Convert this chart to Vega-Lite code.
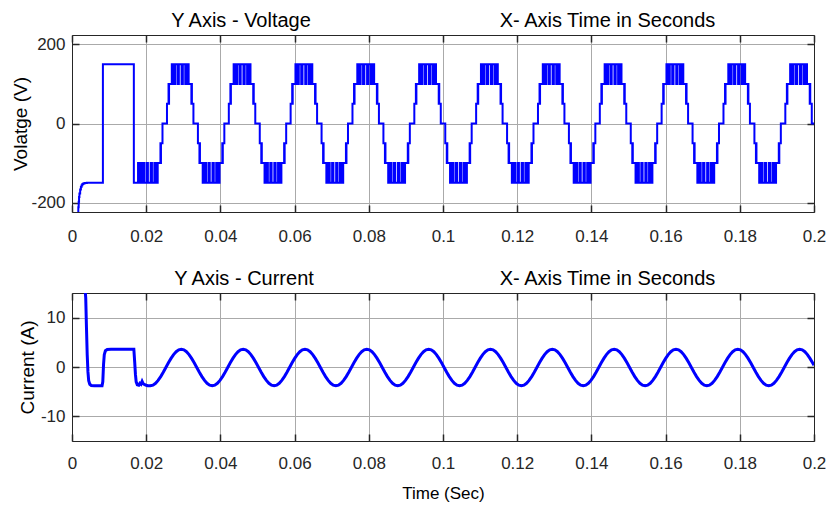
{
  "$schema": "https://vega.github.io/schema/vega-lite/v6.json",
  "background": "white",
  "padding": {"left": 11, "top": 10, "right": 0, "bottom": 5},
  "spacing": 24,
  "config": {
    "view": {"stroke": null},
    "axis": {
      "domainColor": "#262626",
      "domainWidth": 1,
      "tickColor": "#262626",
      "tickWidth": 1.5,
      "tickSize": -7,
      "labelFont": "Liberation Sans",
      "labelFontSize": 17,
      "labelColor": "#262626",
      "labelFlush": false,
      "labelOverlap": false,
      "labelExpr": "replace(datum.label, '−', '-')",
      "titleFont": "Liberation Sans",
      "titleFontWeight": "normal",
      "titleColor": "#000000",
      "gridColor": "#aaaaaa",
      "gridWidth": 1,
      "gridOpacity": 1
    },
    "title": {"font": "Liberation Sans", "fontSize": 20, "fontWeight": "normal", "color": "#000000"}
  },
  "datasets": {
    "voltage": [
      {"t":0.0016,"v":-235},{"t":0.0017,"v":-212},{"t":0.0018,"v":-198},{"t":0.0019,"v":-186},{"t":0.0020,"v":-177},{"t":0.0022,"v":-167},{"t":0.0024,"v":-160},{"t":0.0026,"v":-156},{"t":0.0028,"v":-153},{"t":0.0031,"v":-151.5},{"t":0.0035,"v":-150.5},{"t":0.0040,"v":-150},
      {"t":0.00833,"v":150},{"t":0.01667,"v":-150},{"t":0.0178,"v":-100},{"t":0.01815,"v":-150},{"t":0.01835,"v":-100},
      {"t":0.01856,"v":-150},{"t":0.01893,"v":-100},{"t":0.01946,"v":-150},{"t":0.02011,"v":-100},{"t":0.02046,"v":-150},{"t":0.02120,"v":-100},{"t":0.02155,"v":-150},{"t":0.02220,"v":-100},{"t":0.02273,"v":-150},{"t":0.02310,"v":-100},{"t":0.02384,"v":-50},{"t":0.02391,"v":-100},{"t":0.02398,"v":-50},{"t":0.02439,"v":0},

      {"t":0.02560,"v":50},{"t":0.02602,"v":100},{"t":0.02609,"v":50},{"t":0.02616,"v":100},{"t":0.02690,"v":150},{"t":0.02727,"v":100},{"t":0.02780,"v":150},{"t":0.02845,"v":100},{"t":0.02880,"v":150},{"t":0.02954,"v":100},{"t":0.02988,"v":150},{"t":0.03053,"v":100},{"t":0.03106,"v":150},{"t":0.03144,"v":100},{"t":0.03218,"v":50},{"t":0.03225,"v":100},{"t":0.03232,"v":50},{"t":0.03273,"v":0},
      {"t":0.03394,"v":-50},{"t":0.03435,"v":-100},{"t":0.03442,"v":-50},{"t":0.03449,"v":-100},{"t":0.03523,"v":-150},{"t":0.03560,"v":-100},{"t":0.03613,"v":-150},{"t":0.03678,"v":-100},{"t":0.03713,"v":-150},{"t":0.03787,"v":-100},{"t":0.03822,"v":-150},{"t":0.03887,"v":-100},{"t":0.03940,"v":-150},{"t":0.03977,"v":-100},{"t":0.04051,"v":-50},{"t":0.04058,"v":-100},{"t":0.04065,"v":-50},{"t":0.04106,"v":0},

      {"t":0.04227,"v":50},{"t":0.04269,"v":100},{"t":0.04276,"v":50},{"t":0.04283,"v":100},{"t":0.04357,"v":150},{"t":0.04394,"v":100},{"t":0.04447,"v":150},{"t":0.04512,"v":100},{"t":0.04547,"v":150},{"t":0.04621,"v":100},{"t":0.04655,"v":150},{"t":0.04720,"v":100},{"t":0.04773,"v":150},{"t":0.04811,"v":100},{"t":0.04885,"v":50},{"t":0.04892,"v":100},{"t":0.04899,"v":50},{"t":0.04940,"v":0},
      {"t":0.05061,"v":-50},{"t":0.05102,"v":-100},{"t":0.05109,"v":-50},{"t":0.05116,"v":-100},{"t":0.05190,"v":-150},{"t":0.05227,"v":-100},{"t":0.05280,"v":-150},{"t":0.05345,"v":-100},{"t":0.05380,"v":-150},{"t":0.05454,"v":-100},{"t":0.05489,"v":-150},{"t":0.05554,"v":-100},{"t":0.05607,"v":-150},{"t":0.05644,"v":-100},{"t":0.05718,"v":-50},{"t":0.05725,"v":-100},{"t":0.05732,"v":-50},{"t":0.05773,"v":0},

      {"t":0.05893,"v":50},{"t":0.05935,"v":100},{"t":0.05942,"v":50},{"t":0.05949,"v":100},{"t":0.06023,"v":150},{"t":0.06060,"v":100},{"t":0.06113,"v":150},{"t":0.06178,"v":100},{"t":0.06213,"v":150},{"t":0.06287,"v":100},{"t":0.06321,"v":150},{"t":0.06386,"v":100},{"t":0.06439,"v":150},{"t":0.06477,"v":100},{"t":0.06551,"v":50},{"t":0.06558,"v":100},{"t":0.06565,"v":50},{"t":0.06606,"v":0},
      {"t":0.06727,"v":-50},{"t":0.06768,"v":-100},{"t":0.06775,"v":-50},{"t":0.06782,"v":-100},{"t":0.06856,"v":-150},{"t":0.06893,"v":-100},{"t":0.06946,"v":-150},{"t":0.07011,"v":-100},{"t":0.07046,"v":-150},{"t":0.07120,"v":-100},{"t":0.07155,"v":-150},{"t":0.07220,"v":-100},{"t":0.07273,"v":-150},{"t":0.07310,"v":-100},{"t":0.07384,"v":-50},{"t":0.07391,"v":-100},{"t":0.07398,"v":-50},{"t":0.07439,"v":0},

      {"t":0.07560,"v":50},{"t":0.07602,"v":100},{"t":0.07609,"v":50},{"t":0.07616,"v":100},{"t":0.07690,"v":150},{"t":0.07727,"v":100},{"t":0.07780,"v":150},{"t":0.07845,"v":100},{"t":0.07880,"v":150},{"t":0.07954,"v":100},{"t":0.07988,"v":150},{"t":0.08053,"v":100},{"t":0.08106,"v":150},{"t":0.08144,"v":100},{"t":0.08218,"v":50},{"t":0.08225,"v":100},{"t":0.08232,"v":50},{"t":0.08273,"v":0},
      {"t":0.08394,"v":-50},{"t":0.08435,"v":-100},{"t":0.08442,"v":-50},{"t":0.08449,"v":-100},{"t":0.08523,"v":-150},{"t":0.08560,"v":-100},{"t":0.08613,"v":-150},{"t":0.08678,"v":-100},{"t":0.08713,"v":-150},{"t":0.08787,"v":-100},{"t":0.08822,"v":-150},{"t":0.08887,"v":-100},{"t":0.08940,"v":-150},{"t":0.08977,"v":-100},{"t":0.09051,"v":-50},{"t":0.09058,"v":-100},{"t":0.09065,"v":-50},{"t":0.09106,"v":0},

      {"t":0.09227,"v":50},{"t":0.09269,"v":100},{"t":0.09276,"v":50},{"t":0.09283,"v":100},{"t":0.09357,"v":150},{"t":0.09394,"v":100},{"t":0.09447,"v":150},{"t":0.09512,"v":100},{"t":0.09547,"v":150},{"t":0.09621,"v":100},{"t":0.09655,"v":150},{"t":0.09720,"v":100},{"t":0.09773,"v":150},{"t":0.09811,"v":100},{"t":0.09885,"v":50},{"t":0.09892,"v":100},{"t":0.09899,"v":50},{"t":0.09940,"v":0},
      {"t":0.10061,"v":-50},{"t":0.10102,"v":-100},{"t":0.10109,"v":-50},{"t":0.10116,"v":-100},{"t":0.10190,"v":-150},{"t":0.10227,"v":-100},{"t":0.10280,"v":-150},{"t":0.10345,"v":-100},{"t":0.10380,"v":-150},{"t":0.10454,"v":-100},{"t":0.10489,"v":-150},{"t":0.10554,"v":-100},{"t":0.10607,"v":-150},{"t":0.10644,"v":-100},{"t":0.10718,"v":-50},{"t":0.10725,"v":-100},{"t":0.10732,"v":-50},{"t":0.10773,"v":0},

      {"t":0.10893,"v":50},{"t":0.10935,"v":100},{"t":0.10942,"v":50},{"t":0.10949,"v":100},{"t":0.11023,"v":150},{"t":0.11060,"v":100},{"t":0.11113,"v":150},{"t":0.11178,"v":100},{"t":0.11213,"v":150},{"t":0.11287,"v":100},{"t":0.11321,"v":150},{"t":0.11386,"v":100},{"t":0.11439,"v":150},{"t":0.11477,"v":100},{"t":0.11551,"v":50},{"t":0.11558,"v":100},{"t":0.11565,"v":50},{"t":0.11606,"v":0},
      {"t":0.11727,"v":-50},{"t":0.11768,"v":-100},{"t":0.11775,"v":-50},{"t":0.11782,"v":-100},{"t":0.11856,"v":-150},{"t":0.11893,"v":-100},{"t":0.11946,"v":-150},{"t":0.12011,"v":-100},{"t":0.12046,"v":-150},{"t":0.12120,"v":-100},{"t":0.12155,"v":-150},{"t":0.12220,"v":-100},{"t":0.12273,"v":-150},{"t":0.12310,"v":-100},{"t":0.12384,"v":-50},{"t":0.12391,"v":-100},{"t":0.12398,"v":-50},{"t":0.12439,"v":0},

      {"t":0.12560,"v":50},{"t":0.12602,"v":100},{"t":0.12609,"v":50},{"t":0.12616,"v":100},{"t":0.12690,"v":150},{"t":0.12727,"v":100},{"t":0.12780,"v":150},{"t":0.12845,"v":100},{"t":0.12880,"v":150},{"t":0.12954,"v":100},{"t":0.12988,"v":150},{"t":0.13053,"v":100},{"t":0.13106,"v":150},{"t":0.13144,"v":100},{"t":0.13218,"v":50},{"t":0.13225,"v":100},{"t":0.13232,"v":50},{"t":0.13273,"v":0},
      {"t":0.13394,"v":-50},{"t":0.13435,"v":-100},{"t":0.13442,"v":-50},{"t":0.13449,"v":-100},{"t":0.13523,"v":-150},{"t":0.13560,"v":-100},{"t":0.13613,"v":-150},{"t":0.13678,"v":-100},{"t":0.13713,"v":-150},{"t":0.13787,"v":-100},{"t":0.13822,"v":-150},{"t":0.13887,"v":-100},{"t":0.13940,"v":-150},{"t":0.13977,"v":-100},{"t":0.14051,"v":-50},{"t":0.14058,"v":-100},{"t":0.14065,"v":-50},{"t":0.14106,"v":0},

      {"t":0.14227,"v":50},{"t":0.14269,"v":100},{"t":0.14276,"v":50},{"t":0.14283,"v":100},{"t":0.14357,"v":150},{"t":0.14394,"v":100},{"t":0.14447,"v":150},{"t":0.14512,"v":100},{"t":0.14547,"v":150},{"t":0.14621,"v":100},{"t":0.14655,"v":150},{"t":0.14720,"v":100},{"t":0.14773,"v":150},{"t":0.14811,"v":100},{"t":0.14885,"v":50},{"t":0.14892,"v":100},{"t":0.14899,"v":50},{"t":0.14940,"v":0},
      {"t":0.15061,"v":-50},{"t":0.15102,"v":-100},{"t":0.15109,"v":-50},{"t":0.15116,"v":-100},{"t":0.15190,"v":-150},{"t":0.15227,"v":-100},{"t":0.15280,"v":-150},{"t":0.15345,"v":-100},{"t":0.15380,"v":-150},{"t":0.15454,"v":-100},{"t":0.15489,"v":-150},{"t":0.15554,"v":-100},{"t":0.15607,"v":-150},{"t":0.15644,"v":-100},{"t":0.15718,"v":-50},{"t":0.15725,"v":-100},{"t":0.15732,"v":-50},{"t":0.15773,"v":0},

      {"t":0.15893,"v":50},{"t":0.15935,"v":100},{"t":0.15942,"v":50},{"t":0.15949,"v":100},{"t":0.16023,"v":150},{"t":0.16060,"v":100},{"t":0.16113,"v":150},{"t":0.16178,"v":100},{"t":0.16213,"v":150},{"t":0.16287,"v":100},{"t":0.16321,"v":150},{"t":0.16386,"v":100},{"t":0.16439,"v":150},{"t":0.16477,"v":100},{"t":0.16551,"v":50},{"t":0.16558,"v":100},{"t":0.16565,"v":50},{"t":0.16606,"v":0},
      {"t":0.16727,"v":-50},{"t":0.16768,"v":-100},{"t":0.16775,"v":-50},{"t":0.16782,"v":-100},{"t":0.16856,"v":-150},{"t":0.16893,"v":-100},{"t":0.16946,"v":-150},{"t":0.17011,"v":-100},{"t":0.17046,"v":-150},{"t":0.17120,"v":-100},{"t":0.17155,"v":-150},{"t":0.17220,"v":-100},{"t":0.17273,"v":-150},{"t":0.17310,"v":-100},{"t":0.17384,"v":-50},{"t":0.17391,"v":-100},{"t":0.17398,"v":-50},{"t":0.17439,"v":0},

      {"t":0.17560,"v":50},{"t":0.17602,"v":100},{"t":0.17609,"v":50},{"t":0.17616,"v":100},{"t":0.17690,"v":150},{"t":0.17727,"v":100},{"t":0.17780,"v":150},{"t":0.17845,"v":100},{"t":0.17880,"v":150},{"t":0.17954,"v":100},{"t":0.17988,"v":150},{"t":0.18053,"v":100},{"t":0.18106,"v":150},{"t":0.18144,"v":100},{"t":0.18218,"v":50},{"t":0.18225,"v":100},{"t":0.18232,"v":50},{"t":0.18273,"v":0},
      {"t":0.18394,"v":-50},{"t":0.18435,"v":-100},{"t":0.18442,"v":-50},{"t":0.18449,"v":-100},{"t":0.18523,"v":-150},{"t":0.18560,"v":-100},{"t":0.18613,"v":-150},{"t":0.18678,"v":-100},{"t":0.18713,"v":-150},{"t":0.18787,"v":-100},{"t":0.18822,"v":-150},{"t":0.18887,"v":-100},{"t":0.18940,"v":-150},{"t":0.18977,"v":-100},{"t":0.19051,"v":-50},{"t":0.19058,"v":-100},{"t":0.19065,"v":-50},{"t":0.19106,"v":0},

      {"t":0.19227,"v":50},{"t":0.19269,"v":100},{"t":0.19276,"v":50},{"t":0.19283,"v":100},{"t":0.19357,"v":150},{"t":0.19394,"v":100},{"t":0.19447,"v":150},{"t":0.19512,"v":100},{"t":0.19547,"v":150},{"t":0.19621,"v":100},{"t":0.19655,"v":150},{"t":0.19720,"v":100},{"t":0.19773,"v":150},{"t":0.19811,"v":100},{"t":0.19885,"v":50},{"t":0.19892,"v":100},{"t":0.19899,"v":50},{"t":0.19940,"v":0},{"t":0.20000,"v":0}
    ],
    "current": [
      {"t":0.0034,"i":17},{"t":0.0037,"i":14},{"t":0.0039,"i":8},{"t":0.0041,"i":2.5},{"t":0.0043,"i":-1},{"t":0.0045,"i":-2.8},{"t":0.0048,"i":-3.5},{"t":0.0052,"i":-3.75},{"t":0.006,"i":-3.8},{"t":0.0081,"i":-3.8},{"t":0.0083,"i":-3.0},{"t":0.0085,"i":0.5},{"t":0.0087,"i":2.5},{"t":0.009,"i":3.3},{"t":0.0095,"i":3.55},{"t":0.0105,"i":3.6},{"t":0.01667,"i":3.6},
      {"t":0.0169,"i":1.0},{"t":0.0171,"i":-1.5},{"t":0.0173,"i":-3.0},{"t":0.0176,"i":-3.6},{"t":0.018,"i":-3.7},{"t":0.0183,"i":-3.3},{"t":0.0186,"i":-3.5},{"t":0.0189,"i":-2.9},{"t":0.0192,"i":-3.4},{"t":0.0196,"i":-3.6},{"t":0.02,"i":-3.7},{"t":0.0204,"i":-3.8},{"t":0.02111,"i":-3.8},{"t":0.02182,"i":-3.67},{"t":0.02252,"i":-3.3},{"t":0.02321,"i":-2.72},{"t":0.02391,"i":-1.95},{"t":0.0246,"i":-1.06},

      {"t":0.02530,"i":-0.10},{"t":0.02599,"i":0.86},{"t":0.02669,"i":1.75},{"t":0.02738,"i":2.52},{"t":0.02808,"i":3.10},{"t":0.02877,"i":3.47},{"t":0.02947,"i":3.60},{"t":0.03016,"i":3.47},{"t":0.03086,"i":3.10},{"t":0.03155,"i":2.52},{"t":0.03224,"i":1.75},{"t":0.03294,"i":0.86},
      {"t":0.03363,"i":-0.10},{"t":0.03433,"i":-1.06},{"t":0.03502,"i":-1.95},{"t":0.03572,"i":-2.72},{"t":0.03641,"i":-3.30},{"t":0.03711,"i":-3.67},{"t":0.03780,"i":-3.80},{"t":0.03849,"i":-3.67},{"t":0.03919,"i":-3.30},{"t":0.03988,"i":-2.72},{"t":0.04058,"i":-1.95},{"t":0.04127,"i":-1.06},

      {"t":0.04197,"i":-0.10},{"t":0.04266,"i":0.86},{"t":0.04336,"i":1.75},{"t":0.04405,"i":2.52},{"t":0.04475,"i":3.10},{"t":0.04544,"i":3.47},{"t":0.04614,"i":3.60},{"t":0.04683,"i":3.47},{"t":0.04753,"i":3.10},{"t":0.04822,"i":2.52},{"t":0.04891,"i":1.75},{"t":0.04961,"i":0.86},
      {"t":0.05030,"i":-0.10},{"t":0.05100,"i":-1.06},{"t":0.05169,"i":-1.95},{"t":0.05239,"i":-2.72},{"t":0.05308,"i":-3.30},{"t":0.05378,"i":-3.67},{"t":0.05447,"i":-3.80},{"t":0.05516,"i":-3.67},{"t":0.05586,"i":-3.30},{"t":0.05655,"i":-2.72},{"t":0.05725,"i":-1.95},{"t":0.05794,"i":-1.06},

      {"t":0.05863,"i":-0.10},{"t":0.05932,"i":0.86},{"t":0.06002,"i":1.75},{"t":0.06071,"i":2.52},{"t":0.06141,"i":3.10},{"t":0.06210,"i":3.47},{"t":0.06280,"i":3.60},{"t":0.06349,"i":3.47},{"t":0.06419,"i":3.10},{"t":0.06488,"i":2.52},{"t":0.06557,"i":1.75},{"t":0.06627,"i":0.86},
      {"t":0.06696,"i":-0.10},{"t":0.06766,"i":-1.06},{"t":0.06835,"i":-1.95},{"t":0.06905,"i":-2.72},{"t":0.06974,"i":-3.30},{"t":0.07044,"i":-3.67},{"t":0.07113,"i":-3.80},{"t":0.07182,"i":-3.67},{"t":0.07252,"i":-3.30},{"t":0.07321,"i":-2.72},{"t":0.07391,"i":-1.95},{"t":0.07460,"i":-1.06},

      {"t":0.07530,"i":-0.10},{"t":0.07599,"i":0.86},{"t":0.07669,"i":1.75},{"t":0.07738,"i":2.52},{"t":0.07808,"i":3.10},{"t":0.07877,"i":3.47},{"t":0.07947,"i":3.60},{"t":0.08016,"i":3.47},{"t":0.08086,"i":3.10},{"t":0.08155,"i":2.52},{"t":0.08224,"i":1.75},{"t":0.08294,"i":0.86},
      {"t":0.08363,"i":-0.10},{"t":0.08433,"i":-1.06},{"t":0.08502,"i":-1.95},{"t":0.08572,"i":-2.72},{"t":0.08641,"i":-3.30},{"t":0.08711,"i":-3.67},{"t":0.08780,"i":-3.80},{"t":0.08849,"i":-3.67},{"t":0.08919,"i":-3.30},{"t":0.08988,"i":-2.72},{"t":0.09058,"i":-1.95},{"t":0.09127,"i":-1.06},

      {"t":0.09197,"i":-0.10},{"t":0.09266,"i":0.86},{"t":0.09336,"i":1.75},{"t":0.09405,"i":2.52},{"t":0.09475,"i":3.10},{"t":0.09544,"i":3.47},{"t":0.09614,"i":3.60},{"t":0.09683,"i":3.47},{"t":0.09753,"i":3.10},{"t":0.09822,"i":2.52},{"t":0.09891,"i":1.75},{"t":0.09961,"i":0.86},
      {"t":0.10030,"i":-0.10},{"t":0.10100,"i":-1.06},{"t":0.10169,"i":-1.95},{"t":0.10239,"i":-2.72},{"t":0.10308,"i":-3.30},{"t":0.10378,"i":-3.67},{"t":0.10447,"i":-3.80},{"t":0.10516,"i":-3.67},{"t":0.10586,"i":-3.30},{"t":0.10655,"i":-2.72},{"t":0.10725,"i":-1.95},{"t":0.10794,"i":-1.06},

      {"t":0.10863,"i":-0.10},{"t":0.10932,"i":0.86},{"t":0.11002,"i":1.75},{"t":0.11071,"i":2.52},{"t":0.11141,"i":3.10},{"t":0.11210,"i":3.47},{"t":0.11280,"i":3.60},{"t":0.11349,"i":3.47},{"t":0.11419,"i":3.10},{"t":0.11488,"i":2.52},{"t":0.11557,"i":1.75},{"t":0.11627,"i":0.86},
      {"t":0.11696,"i":-0.10},{"t":0.11766,"i":-1.06},{"t":0.11835,"i":-1.95},{"t":0.11905,"i":-2.72},{"t":0.11974,"i":-3.30},{"t":0.12044,"i":-3.67},{"t":0.12113,"i":-3.80},{"t":0.12182,"i":-3.67},{"t":0.12252,"i":-3.30},{"t":0.12321,"i":-2.72},{"t":0.12391,"i":-1.95},{"t":0.12460,"i":-1.06},

      {"t":0.12530,"i":-0.10},{"t":0.12599,"i":0.86},{"t":0.12669,"i":1.75},{"t":0.12738,"i":2.52},{"t":0.12808,"i":3.10},{"t":0.12877,"i":3.47},{"t":0.12947,"i":3.60},{"t":0.13016,"i":3.47},{"t":0.13086,"i":3.10},{"t":0.13155,"i":2.52},{"t":0.13224,"i":1.75},{"t":0.13294,"i":0.86},
      {"t":0.13363,"i":-0.10},{"t":0.13433,"i":-1.06},{"t":0.13502,"i":-1.95},{"t":0.13572,"i":-2.72},{"t":0.13641,"i":-3.30},{"t":0.13711,"i":-3.67},{"t":0.13780,"i":-3.80},{"t":0.13849,"i":-3.67},{"t":0.13919,"i":-3.30},{"t":0.13988,"i":-2.72},{"t":0.14058,"i":-1.95},{"t":0.14127,"i":-1.06},

      {"t":0.14197,"i":-0.10},{"t":0.14266,"i":0.86},{"t":0.14336,"i":1.75},{"t":0.14405,"i":2.52},{"t":0.14475,"i":3.10},{"t":0.14544,"i":3.47},{"t":0.14614,"i":3.60},{"t":0.14683,"i":3.47},{"t":0.14753,"i":3.10},{"t":0.14822,"i":2.52},{"t":0.14891,"i":1.75},{"t":0.14961,"i":0.86},
      {"t":0.15030,"i":-0.10},{"t":0.15100,"i":-1.06},{"t":0.15169,"i":-1.95},{"t":0.15239,"i":-2.72},{"t":0.15308,"i":-3.30},{"t":0.15378,"i":-3.67},{"t":0.15447,"i":-3.80},{"t":0.15516,"i":-3.67},{"t":0.15586,"i":-3.30},{"t":0.15655,"i":-2.72},{"t":0.15725,"i":-1.95},{"t":0.15794,"i":-1.06},

      {"t":0.15863,"i":-0.10},{"t":0.15932,"i":0.86},{"t":0.16002,"i":1.75},{"t":0.16071,"i":2.52},{"t":0.16141,"i":3.10},{"t":0.16210,"i":3.47},{"t":0.16280,"i":3.60},{"t":0.16349,"i":3.47},{"t":0.16419,"i":3.10},{"t":0.16488,"i":2.52},{"t":0.16557,"i":1.75},{"t":0.16627,"i":0.86},
      {"t":0.16696,"i":-0.10},{"t":0.16766,"i":-1.06},{"t":0.16835,"i":-1.95},{"t":0.16905,"i":-2.72},{"t":0.16974,"i":-3.30},{"t":0.17044,"i":-3.67},{"t":0.17113,"i":-3.80},{"t":0.17182,"i":-3.67},{"t":0.17252,"i":-3.30},{"t":0.17321,"i":-2.72},{"t":0.17391,"i":-1.95},{"t":0.17460,"i":-1.06},

      {"t":0.17530,"i":-0.10},{"t":0.17599,"i":0.86},{"t":0.17669,"i":1.75},{"t":0.17738,"i":2.52},{"t":0.17808,"i":3.10},{"t":0.17877,"i":3.47},{"t":0.17947,"i":3.60},{"t":0.18016,"i":3.47},{"t":0.18086,"i":3.10},{"t":0.18155,"i":2.52},{"t":0.18224,"i":1.75},{"t":0.18294,"i":0.86},
      {"t":0.18363,"i":-0.10},{"t":0.18433,"i":-1.06},{"t":0.18502,"i":-1.95},{"t":0.18572,"i":-2.72},{"t":0.18641,"i":-3.30},{"t":0.18711,"i":-3.67},{"t":0.18780,"i":-3.80},{"t":0.18849,"i":-3.67},{"t":0.18919,"i":-3.30},{"t":0.18988,"i":-2.72},{"t":0.19058,"i":-1.95},{"t":0.19127,"i":-1.06},

      {"t":0.19197,"i":-0.10},{"t":0.19266,"i":0.86},{"t":0.19336,"i":1.75},{"t":0.19405,"i":2.52},{"t":0.19475,"i":3.10},{"t":0.19544,"i":3.47},{"t":0.19614,"i":3.60},{"t":0.19683,"i":3.47},{"t":0.19753,"i":3.10},{"t":0.19822,"i":2.52},{"t":0.19891,"i":1.75},{"t":0.19961,"i":0.86},{"t":0.20000,"i":0.33}
    ]
  },
  "vconcat": [
    {
      "width": 742,
      "height": 177,
      "title": {"text": "Y Axis - Voltage", "frame": "group", "anchor": "middle", "dx": -202, "offset": 0, "dy": 21},
      "data": {"name": "voltage"},
      "layer": [
        {
          "mark": {"type": "line", "interpolate": "step-after", "color": "#0000ff", "strokeWidth": 2, "clip": true},
          "encoding": {
            "x": {"field": "t", "type": "quantitative", "scale": {"domain": [0, 0.2], "nice": false, "zero": false},
                  "axis": {"orient": "bottom", "values": [0, 0.02, 0.04, 0.06, 0.08, 0.1, 0.12, 0.14, 0.16, 0.18, 0.2], "format": "~g", "grid": true, "title": null, "labelPadding": 23}},
            "y": {"field": "v", "type": "quantitative", "scale": {"domain": [-224, 224], "nice": false, "zero": false},
                  "axis": {"orient": "left", "values": [-200, 0, 200], "grid": true, "title": "Volatge (V)", "titleFontSize": 19, "titlePadding": 0, "labelPadding": 14}}
          }
        },
        {
          "mark": {"type": "line", "interpolate": "step-after", "strokeOpacity": 0},
          "encoding": {
            "x": {"field": "t", "type": "quantitative",
                  "axis": {"orient": "top", "values": [0, 0.02, 0.04, 0.06, 0.08, 0.1, 0.12, 0.14, 0.16, 0.18, 0.2], "labels": false, "grid": false,
                           "title": "X- Axis Time in Seconds", "titleFontSize": 20, "titleX": 535, "titleY": -9, "titleAnchor": "middle", "titleBaseline": "alphabetic", "titleAngle": 0}},
            "y": {"field": "v", "type": "quantitative",
                  "axis": {"orient": "right", "values": [-200, 0, 200], "labels": false, "grid": false, "title": null}}
          }
        }
      ],
      "resolve": {"axis": {"x": "independent", "y": "independent"}}
    },
    {
      "width": 742,
      "height": 148,
      "title": {"text": "Y Axis - Current", "frame": "group", "anchor": "middle", "dx": -199, "offset": 0, "dy": 21},
      "data": {"name": "current"},
      "layer": [
        {
          "mark": {"type": "line", "color": "#0000ff", "strokeWidth": 3, "clip": true},
          "encoding": {
            "x": {"field": "t", "type": "quantitative", "scale": {"domain": [0, 0.2], "nice": false, "zero": false},
                  "axis": {"orient": "bottom", "values": [0, 0.02, 0.04, 0.06, 0.08, 0.1, 0.12, 0.14, 0.16, 0.18, 0.2], "format": "~g", "grid": true, "labelPadding": 21,
                           "title": "Time (Sec)", "titleFontSize": 17, "titlePadding": 14}},
            "y": {"field": "i", "type": "quantitative", "scale": {"domain": [-15, 15], "nice": false, "zero": false},
                  "axis": {"orient": "left", "values": [-10, 0, 10], "grid": true, "title": "Current (A)", "titleFontSize": 19, "titlePadding": 3, "labelPadding": 14}}
          }
        },
        {
          "mark": {"type": "line", "strokeOpacity": 0},
          "encoding": {
            "x": {"field": "t", "type": "quantitative",
                  "axis": {"orient": "top", "values": [0, 0.02, 0.04, 0.06, 0.08, 0.1, 0.12, 0.14, 0.16, 0.18, 0.2], "labels": false, "grid": false,
                           "title": "X- Axis Time in Seconds", "titleFontSize": 20, "titleX": 535, "titleY": -9, "titleAnchor": "middle", "titleBaseline": "alphabetic", "titleAngle": 0}},
            "y": {"field": "i", "type": "quantitative",
                  "axis": {"orient": "right", "values": [-10, 0, 10], "labels": false, "grid": false, "title": null}}
          }
        }
      ],
      "resolve": {"axis": {"x": "independent", "y": "independent"}}
    }
  ]
}
